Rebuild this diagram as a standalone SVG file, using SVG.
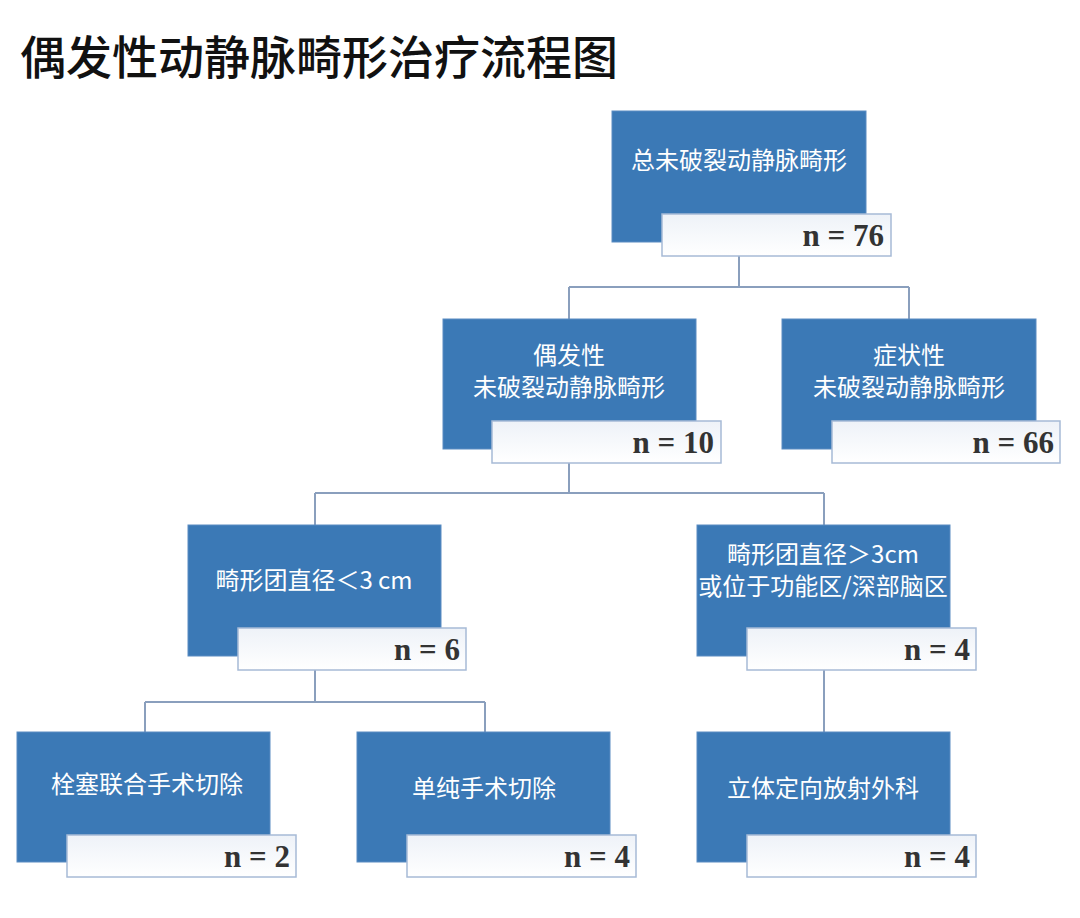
<svg xmlns="http://www.w3.org/2000/svg" width="1080" height="918" viewBox="0 0 1080 918">
<defs>
<linearGradient id="lg" x1="0" y1="0" x2="0" y2="1"><stop offset="0" stop-color="#eef2f8"/><stop offset="1" stop-color="#ffffff"/></linearGradient>
<style>
.b{fill:#3b79b6;stroke:#5a8cc2;stroke-width:1}
.l{fill:url(#lg);stroke:#a7bad6;stroke-width:1.5}
.t{fill:#fff;font-family:"Noto Sans CJK SC",sans-serif;font-size:24px;text-anchor:middle}
.n{fill:#333;font-family:"Liberation Serif",serif;font-size:31px;font-weight:bold;text-anchor:end}
.c{stroke:#8a9fbd;stroke-width:2;fill:none}
</style>
</defs>
<rect width="1080" height="918" fill="#fff"/>
<text x="20" y="74" font-family="Noto Sans CJK SC,sans-serif" font-size="46" font-weight="500" fill="#111">偶发性动静脉畸形治疗流程图</text>
<g id="connectors">
<path class="c" d="M739 256V287M569 287H909M569 287V319M909 287V319"/>
<path class="c" d="M569 463V493M315 493H824M315 493V525M824 493V525"/>
<path class="c" d="M315 670V702M145 702H485M145 702V732M485 702V732"/>
<path class="c" d="M824 670V732"/>
</g>
<g id="n1"><rect class="b" x="612" y="111" width="254" height="131"/><text class="t" x="739" y="169">总未破裂动静脉畸形</text><rect class="l" x="662" y="214" width="229" height="42"/><text class="n" x="884" y="246">n = 76</text></g>
<g id="n2"><rect class="b" x="443" y="319" width="253" height="130"/><text class="t" x="569" y="364">偶发性</text><text class="t" x="569" y="396">未破裂动静脉畸形</text><rect class="l" x="492" y="421" width="229" height="42"/><text class="n" x="714" y="453">n = 10</text></g>
<g id="n3"><rect class="b" x="782" y="319" width="254" height="130"/><text class="t" x="909" y="364">症状性</text><text class="t" x="909" y="396">未破裂动静脉畸形</text><rect class="l" x="832" y="421" width="228" height="42"/><text class="n" x="1054" y="453">n = 66</text></g>
<g id="n4"><rect class="b" x="188" y="525" width="253" height="131"/><text class="t" x="314" y="589">畸形团直径＜3 cm</text><rect class="l" x="238" y="628" width="228" height="42"/><text class="n" x="460" y="660">n = 6</text></g>
<g id="n5"><rect class="b" x="697" y="525" width="253" height="131"/><text class="t" x="823" y="563" font-size="21">畸形团直径＞3cm</text><text class="t" x="823" y="595" font-size="21">或位于功能区/深部脑区</text><rect class="l" x="747" y="628" width="229" height="42"/><text class="n" x="970" y="660">n = 4</text></g>
<g id="n6"><rect class="b" x="17" y="732" width="253" height="130"/><text class="t" x="147" y="793">栓塞联合手术切除</text><rect class="l" x="67" y="835" width="229" height="42"/><text class="n" x="290" y="867">n = 2</text></g>
<g id="n7"><rect class="b" x="357" y="732" width="253" height="130"/><text class="t" x="484" y="797">单纯手术切除</text><rect class="l" x="407" y="835" width="229" height="42"/><text class="n" x="630" y="867">n = 4</text></g>
<g id="n8"><rect class="b" x="697" y="732" width="253" height="130"/><text class="t" x="823" y="797">立体定向放射外科</text><rect class="l" x="747" y="835" width="229" height="42"/><text class="n" x="970" y="867">n = 4</text></g>
</svg>
